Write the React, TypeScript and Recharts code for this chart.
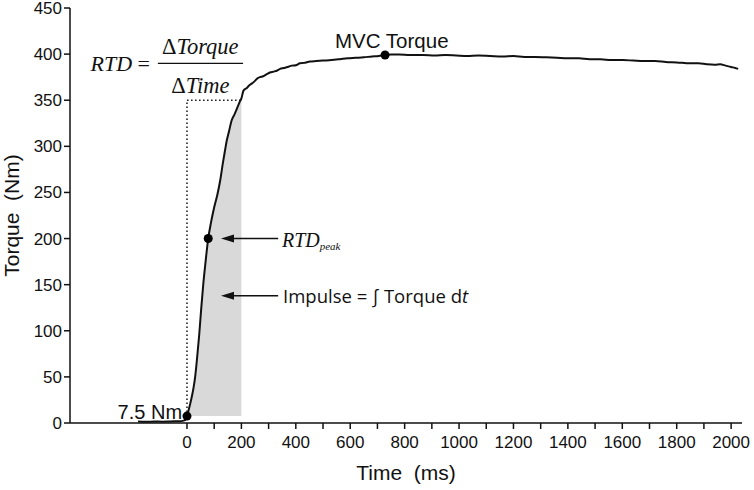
import React from 'react';
import { ComposedChart, Line, Area, XAxis, YAxis, ReferenceLine, ReferenceDot } from 'recharts';

const timeMs = [-180, -150, -120, -90, -60, -30, -12, -4, 0, 6, 12, 18, 24, 30, 37, 45, 52, 60, 68, 78, 88, 100, 112, 122, 132, 140, 146, 155, 164, 175, 185, 195, 200, 207, 213, 219, 228, 238, 250, 260, 268, 280, 292, 305, 318, 330, 342, 356, 370, 385, 400, 415, 430, 452, 475, 500, 530, 562, 590, 620, 650, 680, 705, 728, 750, 780, 820, 868, 910, 950, 990, 1030, 1070, 1114, 1160, 1200, 1240, 1280, 1320, 1360, 1400, 1440, 1480, 1520, 1560, 1603, 1640, 1680, 1720, 1760, 1800, 1849, 1880, 1910, 1940, 1960, 1980, 2000, 2015, 2026];
const torqueNm = [1.5, 1.3, 1.6, 1.4, 1.7, 1.9, 2.6, 4, 7.5, 14, 21, 29, 38, 50, 70, 96, 123, 151, 174, 200, 217, 234, 248, 263, 282, 296, 306, 317, 328, 335, 342, 349, 352, 360, 362, 363, 366, 368, 371, 374, 375, 376, 378, 380, 381, 382, 384, 385, 386, 387.5, 388, 390, 390.5, 392, 392.5, 393, 393.5, 394.5, 395.5, 396, 396.5, 397.5, 398, 399, 399.5, 399.5, 399, 399, 398.5, 399, 398.5, 398, 398.5, 398, 397.5, 398, 397, 397, 396.5, 396, 395.5, 395.5, 394.5, 394.5, 393.5, 393.5, 393, 392.5, 392.5, 391.5, 391, 390, 390, 389, 388.5, 389, 387.5, 386, 385, 384];

const xTicks = [0, 100, 200, 300, 400, 500, 600, 700, 800, 900, 1000, 1100, 1200, 1300, 1400, 1500, 1600, 1700, 1800, 1900, 2000];
const yTicks = [0, 50, 100, 150, 200, 250, 300, 350, 400, 450];

const onsetTorque = 7.5;
const rtdWindowEnd = 200;
const rtdLevel = 350;
const rtdPeakPoint = { t: 78, v: 200 };
const mvcPoint = { t: 728, v: 399 };

const data = timeMs.map((t, i) => ({ t, torque: torqueNm[i] }));
const shadeData = timeMs
  .map((t, i) => ({ t, range: [onsetTorque, torqueNm[i]] }))
  .filter((d) => d.t >= 0 && d.t <= rtdWindowEnd);

const SANS = '"Liberation Sans", Arial, sans-serif';
const SERIF = '"Liberation Serif", "Times New Roman", serif';
const HUMAN = '"Open Sans", "Noto Sans", sans-serif';

const textAt = (render: (x: number, y: number) => React.ReactElement) => (p: any) => render(p.cx, p.cy);

const arrowShape = (p: any) => {
  const { x1, y1, x2, y2 } = p;
  const dir = x2 < x1 ? 1 : -1;
  return (
    <g>
      <line x1={x1} y1={y1} x2={x2 + dir * 10} y2={y2} stroke="#111" strokeWidth={1.5} />
      <polygon points={`${x2},${y2} ${x2 + dir * 13},${y2 - 4} ${x2 + dir * 13},${y2 + 4}`} fill="#111" />
    </g>
  );
};

export default function App() {
  return (
    <div style={{ position: 'absolute', left: 0, top: 0, background: '#fff' }}>
      <ComposedChart width={754} height={490} margin={{ top: 8, right: 12, bottom: 0, left: 0 }}>
        <XAxis
          type="number"
          dataKey="t"
          domain={[-430, 2040]}
          allowDataOverflow
          ticks={xTicks}
          interval={0}
          tickFormatter={(v: number) => (v % 200 === 0 ? String(v) : '')}
          tickSize={6}
          tickMargin={7}
          height={67}
          axisLine={{ stroke: '#111', strokeWidth: 1.5 }}
          tickLine={{ stroke: '#111', strokeWidth: 1.5 }}
          tick={{ fill: '#111', fontSize: 17, fontFamily: SANS }}
          label={{
            value: 'Time  (ms)',
            content: (lp: any) => {
              const vb = lp.viewBox;
              return (
                <text x={406} y={vb.y + 57} textAnchor="middle" fontSize={21} fontFamily={SANS} fill="#111" style={{ whiteSpace: 'pre' }}>
                  Time{'  '}(ms)
                </text>
              );
            },
          }}
        />
        <YAxis
          type="number"
          domain={[0, 450]}
          ticks={yTicks}
          interval={0}
          width={70}
          tickSize={6}
          tickMargin={2}
          axisLine={{ stroke: '#111', strokeWidth: 1.5 }}
          tickLine={{ stroke: '#111', strokeWidth: 1.5 }}
          tick={{ fill: '#111', fontSize: 17, fontFamily: SANS }}
          label={{
            value: 'Torque  (Nm)',
            content: (lp: any) => {
              const vb = lp.viewBox;
              const cx = 19;
              const cy = vb.y + vb.height / 2;
              return (
                <text x={cx} y={cy} transform={`rotate(-90 ${cx} ${cy})`} textAnchor="middle" fontSize={21} fontFamily={SANS} fill="#111" style={{ whiteSpace: 'pre' }}>
                  Torque{'  '}(Nm)
                </text>
              );
            },
          }}
        />
        <Area
          data={shadeData}
          dataKey="range"
          type="monotoneX"
          stroke="none"
          fill="#d9d9d9"
          fillOpacity={1}
          isAnimationActive={false}
        />
        <ReferenceLine
          segment={[{ x: 0, y: onsetTorque }, { x: 0, y: rtdLevel }]}
          stroke="#222"
          strokeWidth={1.6}
          strokeDasharray="1.6 2.4"
        />
        <ReferenceLine
          segment={[{ x: 0, y: rtdLevel }, { x: rtdWindowEnd, y: rtdLevel }]}
          stroke="#222"
          strokeWidth={1.6}
          strokeDasharray="1.6 2.4"
        />
        <Line
          data={data}
          dataKey="torque"
          type="monotoneX"
          stroke="#111"
          strokeWidth={2}
          dot={false}
          isAnimationActive={false}
        />
        <ReferenceDot x={0} y={onsetTorque} r={4.5} fill="#000" stroke="none" />
        <ReferenceDot x={rtdPeakPoint.t} y={rtdPeakPoint.v} r={4.5} fill="#000" stroke="none" />
        <ReferenceDot x={mvcPoint.t} y={mvcPoint.v} r={4.5} fill="#000" stroke="none" />
        <ReferenceLine segment={[{ x: 335, y: 200 }, { x: 125, y: 200 }]} shape={arrowShape} />
        <ReferenceLine segment={[{ x: 335, y: 138 }, { x: 125, y: 138 }]} shape={arrowShape} />
        <ReferenceLine segment={[{ x: -107, y: 390 }, { x: 206, y: 390 }]} stroke="#111" strokeWidth={1.3} />
        <ReferenceDot
          x={-136}
          y={382}
          r={0}
          shape={textAt((x, y) => (
            <text x={x} y={y} textAnchor="end" fontSize={22} fontFamily={SERIF} fill="#111">
              <tspan fontStyle="italic">RTD</tspan> =
            </text>
          ))}
        />
        <ReferenceDot
          x={49}
          y={400}
          r={0}
          shape={textAt((x, y) => (
            <text x={x} y={y} textAnchor="middle" fontSize={22.5} fontFamily={SERIF} fill="#111">
              Δ<tspan fontStyle="italic">Torque</tspan>
            </text>
          ))}
        />
        <ReferenceDot
          x={49}
          y={358}
          r={0}
          shape={textAt((x, y) => (
            <text x={x} y={y} textAnchor="middle" fontSize={22.5} fontFamily={SERIF} fill="#111">
              Δ<tspan fontStyle="italic">Time</tspan>
            </text>
          ))}
        />
        <ReferenceDot
          x={544}
          y={407}
          r={0}
          shape={textAt((x, y) => (
            <text x={x} y={y} fontSize={20.5} fontFamily={SANS} fill="#111">
              MVC Torque
            </text>
          ))}
        />
        <ReferenceDot
          x={-18}
          y={4.3}
          r={0}
          shape={textAt((x, y) => (
            <text x={x} y={y} textAnchor="end" fontSize={20} fontFamily={SANS} fill="#111">
              7.5 Nm
            </text>
          ))}
        />
        <ReferenceDot
          x={349}
          y={190.7}
          r={0}
          shape={textAt((x, y) => (
            <text x={x} y={y} fontSize={20} fontFamily={SERIF} fontStyle="italic" fill="#111">
              RTD<tspan fontSize={11} dy={3}>peak</tspan>
            </text>
          ))}
        />
        <ReferenceDot
          x={353}
          y={130}
          r={0}
          shape={textAt((x, y) => (
            <text x={x} y={y} fontSize={18.5} fontFamily={HUMAN} fill="#111">
              Impulse = ∫ Torque d<tspan fontStyle="italic">t</tspan>
            </text>
          ))}
        />
      </ComposedChart>
    </div>
  );
}
